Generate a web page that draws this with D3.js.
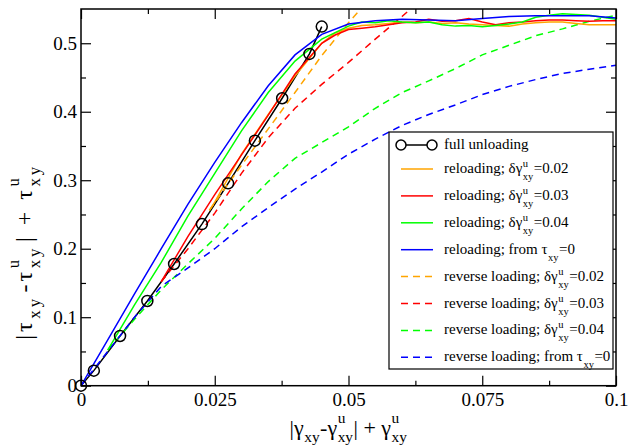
<!DOCTYPE html>
<html><head><meta charset="utf-8">
<script src="https://cdn.jsdelivr.net/npm/d3@7"></script>
<style>
body{margin:0;background:#fff}svg{display:block}
svg text{font-family:"Liberation Serif","Times New Roman",Times,"DejaVu Serif",serif;}
</style>
</head><body>
<svg id="c" width="628" height="445"></svg>
<script>
// ---------- data ----------
const fullX = [0, 0.0024, 0.0073, 0.0124, 0.0174, 0.0226, 0.0275, 0.0325, 0.0376, 0.0427, 0.045];
const fullY = [0, 0.022, 0.0726, 0.1237, 0.1777, 0.236, 0.2955, 0.3578, 0.4197, 0.4844, 0.5243];

const plateauX = [0.05,0.0525,0.055,0.0575,0.06,0.0625,0.065,0.0675,0.07,0.0725,0.075,0.0775,0.08,0.0825,0.085,0.0875,0.09,0.0925,0.095,0.0975,0.1];

const rel002X = [0.024,0.025,0.03,0.035,0.04,0.045,0.0475].concat(plateauX);
const rel002Y = [0.256,0.268,0.338,0.396,0.452,0.5,0.515,
  0.522,0.526,0.527,0.529,0.531,0.53,0.531,0.529,0.53,0.528,0.527,0.526,0.525,0.528,0.53,0.531,0.531,0.529,0.527,0.527,0.527];

const rel003X = [0.015,0.02,0.025,0.03,0.035,0.04,0.045,0.0475].concat(plateauX);
const rel003Y = [0.152,0.218,0.279,0.337,0.395,0.455,0.5,0.512,
  0.52,0.522,0.524,0.527,0.53,0.531,0.535,0.532,0.533,0.536,0.531,0.527,0.53,0.531,0.533,0.534,0.534,0.533,0.532,0.533,0.533];

const rel004X = [0.005,0.01,0.015,0.02,0.025,0.03,0.035,0.04,0.045].concat(plateauX);
const rel004Y = [0.052,0.118,0.18,0.248,0.31,0.372,0.428,0.474,0.506,
  0.525,0.531,0.53,0.533,0.531,0.53,0.531,0.527,0.525,0.526,0.524,0.526,0.528,0.531,0.538,0.541,0.543,0.542,0.541,0.538,0.535];

const relZeroX = [0,0.005,0.01,0.015,0.02,0.025,0.03,0.035,0.04,0.045,0.05,0.055,0.06,0.065,0.07,0.075,0.08,0.085,0.09,0.095,0.1];
const relZeroY = [0,0.067,0.134,0.2,0.265,0.326,0.384,0.438,0.483,0.513,0.528,0.533,0.535,0.534,0.533,0.536,0.539,0.54,0.54,0.54,0.537];

const rev002X = [0.024,0.03,0.035,0.04,0.045,0.05,0.0525];
const rev002Y = [0.256,0.322,0.375,0.428,0.482,0.53,0.552];

const rev003X = [0.015,0.02,0.025,0.03,0.035,0.04,0.045,0.05,0.055,0.06,0.062];
const rev003Y = [0.152,0.2,0.252,0.31,0.362,0.405,0.44,0.472,0.506,0.539,0.553];

const rev004X = [0.005,0.01,0.015,0.02,0.025,0.03,0.035,0.04,0.045,0.05,0.055,0.06,0.065,0.07,0.075,0.08,0.085,0.09,0.095,0.1];
const rev004Y = [0.052,0.097,0.14,0.178,0.215,0.258,0.298,0.332,0.355,0.378,0.405,0.428,0.445,0.463,0.483,0.497,0.511,0.521,0.532,0.541];

const revZeroX = [0,0.005,0.01,0.015,0.02,0.025,0.03,0.035,0.04,0.045,0.05,0.055,0.06,0.065,0.07,0.075,0.08,0.085,0.09,0.095,0.1];
const revZeroY = [0,0.05,0.1,0.145,0.172,0.2,0.232,0.26,0.287,0.312,0.338,0.36,0.38,0.396,0.41,0.425,0.437,0.447,0.456,0.462,0.468];

const xTicks = [0, 0.025, 0.05, 0.075, 0.1];
const xTickLabels = ["0", "0.025", "0.05", "0.075", "0.1"];
const xMinor = [0.0125, 0.0375, 0.0625, 0.0875];
const yTicks = [0, 0.1, 0.2, 0.3, 0.4, 0.5];
const yTickLabels = ["0", "0.1", "0.2", "0.3", "0.4", "0.5"];
const yMinor = [0.05, 0.15, 0.25, 0.35, 0.45];

const legendLabels = [
  [{n:"full unloading"}],
  [{n:"reloading; δγ"},{sup:"u",sub:"xy"},{n:"=0.02"}],
  [{n:"reloading; δγ"},{sup:"u",sub:"xy"},{n:"=0.03"}],
  [{n:"reloading; δγ"},{sup:"u",sub:"xy"},{n:"=0.04"}],
  [{n:"reloading; from τ"},{sub:"xy"},{n:"=0"}],
  [{n:"reverse loading; δγ"},{sup:"u",sub:"xy"},{n:"=0.02"}],
  [{n:"reverse loading; δγ"},{sup:"u",sub:"xy"},{n:"=0.03"}],
  [{n:"reverse loading; δγ"},{sup:"u",sub:"xy"},{n:"=0.04"}],
  [{n:"reverse loading; from τ"},{sub:"xy"},{n:"=0"}]
];
const xTitle = [{n:"|γ"},{sub:"xy"},{n:"-γ"},{sup:"u",sub:"xy"},{n:"| + γ"},{sup:"u",sub:"xy"}];
const yTitle = [{n:"|τ"},{sub:"xy"},{n:"-τ"},{sup:"u",sub:"xy"},{n:"| + τ"},{sup:"u",sub:"xy"}];

// ---------- layout ----------
const L = 81, R = 616, T = 9, B = 385.7;
const svg = d3.select("#c");
const x = d3.scaleLinear().domain([0, 0.1]).range([L, R]);
const y = d3.scaleLinear().domain([0, 0.55]).range([B, T]);

svg.append("defs").append("clipPath").attr("id","clip")
  .append("rect").attr("x",L).attr("y",T).attr("width",R-L).attr("height",B-T);

const series = [
  {x: fullX, y: fullY, color: "#000", dash: null, marker: true},
  {x: rev002X, y: rev002Y, color: "#ffa500", dash: "7,5"},
  {x: rev003X, y: rev003Y, color: "#ff0000", dash: "7,5"},
  {x: rev004X, y: rev004Y, color: "#00ff00", dash: "7,5"},
  {x: revZeroX, y: revZeroY, color: "#0000ff", dash: "7,5"},
  {x: rel002X, y: rel002Y, color: "#ffa500", dash: null},
  {x: rel003X, y: rel003Y, color: "#ff0000", dash: null},
  {x: rel004X, y: rel004Y, color: "#00ff00", dash: null},
  {x: relZeroX, y: relZeroY, color: "#0000ff", dash: null}
];
const legendSeries = [series[0], series[5], series[6], series[7], series[8], series[1], series[2], series[3], series[4]];

const line = d3.line().x(d => x(d[0])).y(d => y(d[1]));
const plot = svg.append("g").attr("clip-path","url(#clip)");
series.forEach(s => {
  const pts = s.x.map((v,i) => [v, s.y[i]]);
  plot.append("path").datum(pts).attr("d", line)
    .attr("fill","none").attr("stroke", s.color).attr("stroke-width", 1.5)
    .attr("stroke-dasharray", s.dash);
});
const fullPts = fullX.map((v,i)=>[v, fullY[i]]);
svg.append("g").selectAll("circle").data(fullPts).join("circle")
  .attr("cx", d=>x(d[0])).attr("cy", d=>y(d[1])).attr("r", 5.5)
  .attr("fill","none").attr("stroke","#000").attr("stroke-width",1.5);

// ---------- axes ----------
function styleAxis(g){
  g.attr("font-family", null);
  g.select(".domain").remove();
  g.selectAll("line").attr("stroke","#000").attr("stroke-width",1.2);
  g.selectAll("text").attr("font-size", 19).attr("fill","#000");
}
svg.append("g").attr("transform",`translate(0,${B})`)
  .call(d3.axisBottom(x).tickValues(xTicks).tickFormat((d,i)=>xTickLabels[i]).tickSizeInner(-10).tickSizeOuter(0).tickPadding(7)).call(styleAxis);
svg.append("g").attr("transform",`translate(0,${B})`)
  .call(d3.axisBottom(x).tickValues(xMinor).tickFormat("").tickSizeInner(-5).tickSizeOuter(0)).call(styleAxis);
svg.append("g").attr("transform",`translate(0,${T})`)
  .call(d3.axisTop(x).tickValues(xTicks).tickFormat("").tickSizeInner(-10).tickSizeOuter(0)).call(styleAxis);
svg.append("g").attr("transform",`translate(0,${T})`)
  .call(d3.axisTop(x).tickValues(xMinor).tickFormat("").tickSizeInner(-5).tickSizeOuter(0)).call(styleAxis);
svg.append("g").attr("transform",`translate(${L},0)`)
  .call(d3.axisLeft(y).tickValues(yTicks).tickFormat((d,i)=>yTickLabels[i]).tickSizeInner(-10).tickSizeOuter(0).tickPadding(4)).call(styleAxis);
svg.append("g").attr("transform",`translate(${L},0)`)
  .call(d3.axisLeft(y).tickValues(yMinor).tickFormat("").tickSizeInner(-5).tickSizeOuter(0)).call(styleAxis);
svg.append("g").attr("transform",`translate(${R},0)`)
  .call(d3.axisRight(y).tickValues(yTicks).tickFormat("").tickSizeInner(-10).tickSizeOuter(0)).call(styleAxis);
svg.append("g").attr("transform",`translate(${R},0)`)
  .call(d3.axisRight(y).tickValues(yMinor).tickFormat("").tickSizeInner(-5).tickSizeOuter(0)).call(styleAxis);

svg.append("rect").attr("x",L).attr("y",T).attr("width",R-L).attr("height",B-T)
  .attr("fill","none").attr("stroke","#000").attr("stroke-width",1.5);

// ---------- rich text ----------
function rich(g, parts, size, opt){
  const small = size*0.7, supDy = -opt.sup, subDy = opt.sub, ls = opt.ls || 0;
  let cx = 0;
  const add = (t, xx, yy, fs) => {
    const el = g.append("text").attr("x",xx).attr("y",yy)
      .attr("font-size",fs).attr("fill","#000").attr("letter-spacing", ls || null).text(t);
    return el.node().getComputedTextLength();
  };
  parts.forEach(p => {
    if (p.n !== undefined) { cx += add(p.n, cx, 0, size); }
    else {
      let w = 0;
      if (p.sup) w = Math.max(w, add(p.sup, cx + 0.5, supDy, small));
      if (p.sub) w = Math.max(w, add(p.sub, cx + 0.5, subDy, small));
      cx += w + 1 + ls;
    }
  });
  return cx;
}

// x title
{
  const g = svg.append("g");
  const w = rich(g, xTitle, 22, {sup: 12, sub: 7});
  g.attr("transform", `translate(${(L+R)/2 - w/2},435)`);
}
// y title
{
  const g = svg.append("g");
  const w = rich(g, yTitle, 24, {sup: 13, sub: 8, ls: 3});
  g.attr("transform", `translate(32,${250 + w/2}) rotate(-90)`);
}

// ---------- legend ----------
const LX0 = 389, LX1 = 613, LY0 = 132, LY1 = 369;
svg.append("rect").attr("x",LX0).attr("y",LY0).attr("width",LX1-LX0).attr("height",LY1-LY0)
  .attr("fill","#fff").attr("stroke","#000").attr("stroke-width",1.2);
legendSeries.forEach((s, i) => {
  const ly = i === 0 ? 145 : 169 + (i-1)*26.9;
  svg.append("line").attr("x1",401).attr("x2",433).attr("y1",ly).attr("y2",ly)
    .attr("stroke", s.color).attr("stroke-width",1.5).attr("stroke-dasharray", s.dash ? "7,5" : null);
  if (s.marker) {
    [401, 432].forEach(cxm => svg.append("circle").attr("cx",cxm).attr("cy",ly).attr("r",5)
      .attr("fill","#fff").attr("stroke","#000").attr("stroke-width",1.5));
  }
  const g = svg.append("g");
  rich(g, legendLabels[i], 15, {sup: 6, sub: 7});
  g.attr("transform", `translate(444,${ly + 4})`);
});
</script>
</body></html>
